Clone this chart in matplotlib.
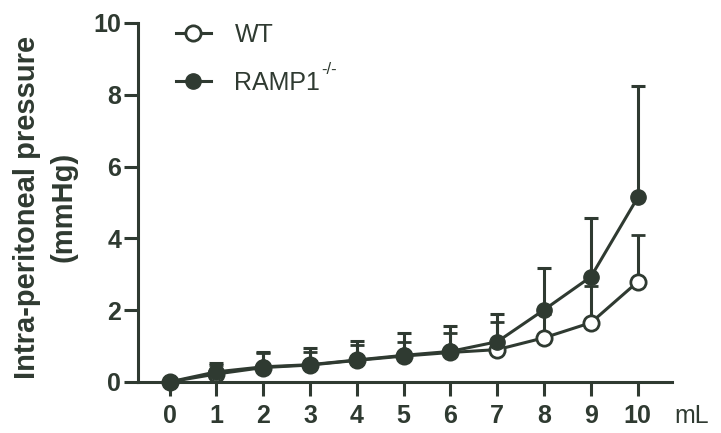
import matplotlib
matplotlib.use("Agg")
import matplotlib.pyplot as plt
from matplotlib.lines import Line2D
import numpy as np

# volumes injected (mL)
volume = [0, 1, 2, 3, 4, 5, 6, 7, 8, 9, 10]

# WT: mean and upper end of error bar
wt_mean = [0, 0.22, 0.40, 0.47, 0.60, 0.72, 0.82, 0.90, 1.23, 1.65, 2.79]
wt_top = [0, 0.47, 0.80, 0.84, 1.03, 1.12, 1.37, 1.68, 1.90, 2.68, 4.10]

# RAMP1-/-
ko_mean = [0, 0.28, 0.42, 0.48, 0.61, 0.74, 0.85, 1.12, 2.01, 2.93, 5.14]
ko_top = [0, 0.53, 0.84, 0.95, 1.14, 1.37, 1.56, 1.90, 3.18, 4.58, 8.24]

col = "#2f3a31"
lw = 2.2
plt.rcParams['font.family'] = ['Liberation Sans', 'DejaVu Sans']

fig = plt.figure(figsize=(7.21, 4.33), dpi=100)
ax = fig.add_axes([0.191, 0.118, 0.741, 0.829])

wt_err = np.array(wt_top) - np.array(wt_mean)
ko_err = np.array(ko_top) - np.array(ko_mean)

ax.errorbar(volume, wt_mean, yerr=[np.zeros(len(volume)), wt_err],
            color=col, lw=lw, marker="o", ms=11, mfc="white", mec=col,
            mew=2, capsize=5, capthick=lw, elinewidth=lw,
            zorder=3, clip_on=False)
ax.errorbar(volume, ko_mean, yerr=[np.zeros(len(volume)), ko_err],
            color=col, lw=lw, marker="o", ms=11, mfc=col, mec=col,
            capsize=5, capthick=lw, elinewidth=lw,
            zorder=4, clip_on=False)

ax.set_xlim(-0.68, 10.73)
ax.set_ylim(0, 10)
ax.set_xticks(volume)
ax.set_yticks([0, 2, 4, 6, 8, 10])
ax.tick_params(axis="x", length=10, width=lw, color=col, labelsize=18,
               labelcolor=col, pad=6)
ax.tick_params(axis="y", length=10, width=lw, color=col, labelsize=18,
               labelcolor=col, pad=2)
for lab in ax.get_yticklabels() + ax.get_xticklabels():
    lab.set_fontweight("bold")

for s in ["top", "right"]:
    ax.spines[s].set_visible(False)
for s in ["left", "bottom"]:
    ax.spines[s].set_linewidth(lw)
    ax.spines[s].set_color(col)

ax.set_ylabel("Intra-peritoneal pressure\n(mmHg)", fontsize=21,
              fontweight="bold", color=col, linespacing=1.4)
ax.yaxis.set_label_coords(-0.112, 0.487)
ax.text(1.005, -0.095, "mL", transform=ax.transAxes, fontsize=18,
        color=col, ha="left", va="center")

handles = [Line2D([], [], color=col, lw=lw, marker="o", ms=11, mfc="white",
                  mec=col, mew=2),
           Line2D([], [], color=col, lw=lw, marker="o", ms=11, mfc=col,
                  mec=col)]
leg = ax.legend(handles, ["WT", "RAMP1"], loc="upper left",
                bbox_to_anchor=(0.071, 1.0), frameon=False, fontsize=18,
                handlelength=1.4, labelspacing=0.95, handletextpad=0.95,
                borderpad=0, borderaxespad=0)
for t in leg.get_texts():
    t.set_color(col)

# superscript after RAMP1, placed once the legend has its final position
fig.canvas.draw()
bb = leg.get_texts()[1].get_window_extent()
fig.text((bb.x1 + 1) / fig.bbox.width, (bb.y0 + 0.72 * bb.height) / fig.bbox.height,
         "-/-", fontsize=12, color=col, ha="left", va="bottom")

fig.savefig("out.png", dpi=100)
